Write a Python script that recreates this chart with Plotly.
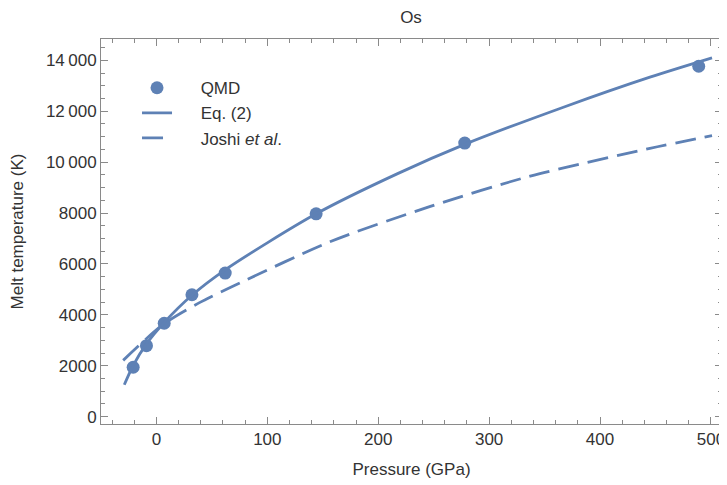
import plotly.graph_objects as go

# QMD data points (pressure GPa, melt temperature K)
qmd_p = [-21, -9, 7, 32, 62, 144, 278, 489]
qmd_t = [1940, 2790, 3670, 4790, 5640, 7970, 10750, 13770]

# Eq. (2) curve
eq_p = [-29, -21, -9, 7, 32, 62, 144, 217, 278, 367, 445, 501]
eq_t = [1250, 2010, 2860, 3700, 4770, 5770, 7970, 9540, 10700, 12160, 13340, 14100]

# Joshi et al. curve
jo_p = [-30, 6, 38, 67, 157, 247, 337, 445, 501]
jo_t = [2210, 3620, 4460, 5080, 6880, 8260, 9450, 10540, 11040]

x_ticks = [0, 100, 200, 300, 400, 500]
y_ticks = [0, 2000, 4000, 6000, 8000, 10000, 12000, 14000]
y_tick_text = ["0", "2000", "4000", "6000", "8000", "10\u2009000", "12\u2009000", "14\u2009000"]

color = "#5E81B5"
frame = "#8a8a8a"
txt = "#333333"
font_family = "Liberation Sans, Arial, sans-serif"
pad = "\u00a0" * 5

# the page body has an 8px margin, so the figure is sized to fit the window
W, H = 719, 477

fig = go.Figure()
fig.add_trace(go.Scatter(x=qmd_p, y=qmd_t, mode="markers", name=pad + "QMD",
                         legendgroup="a",
                         marker=dict(color=color, size=13)))
fig.add_trace(go.Scatter(x=eq_p, y=eq_t, mode="lines", name=pad + "Eq. (2)",
                         legendgroup="b",
                         line=dict(color=color, width=2.8, shape="spline", smoothing=0.8)))
fig.add_trace(go.Scatter(x=jo_p, y=jo_t, mode="lines", name=pad + "Joshi <i>et al</i>.",
                         legendgroup="c",
                         line=dict(color=color, width=2.8, dash="21px,9px", shape="spline", smoothing=0.8)))

axis_common = dict(
    showline=True, linecolor=frame, linewidth=1, mirror="allticks",
    ticks="inside", ticklen=7, tickcolor=frame, tickwidth=1,
    showgrid=False, zeroline=False, automargin=False,
    tickfont=dict(family=font_family, size=17, color=txt),
)

fig.update_xaxes(range=[-50, 510], tickvals=x_ticks,
                 minor=dict(ticks="inside", ticklen=4, dtick=20, tick0=0, tickcolor=frame, showgrid=False),
                 title=dict(text="\u00a0" * 5 + "Pressure (GPa)", font=dict(family=font_family, size=17, color=txt), standoff=14),
                 **axis_common)
fig.update_yaxes(range=[-290, 14840], tickvals=y_ticks, ticktext=y_tick_text,
                 minor=dict(ticks="inside", ticklen=4, dtick=500, tick0=0, tickcolor=frame, showgrid=False),
                 title=dict(text="Melt temperature (K)", font=dict(family=font_family, size=17, color=txt), standoff=19),
                 **axis_common)

fig.update_layout(
    width=W, height=H,
    margin=dict(l=93, r=5, t=31, b=61),
    paper_bgcolor="white", plot_bgcolor="white",
    title=dict(text="Os", x=403 / W, xanchor="center", y=1 - 9 / H, yanchor="middle",
               font=dict(family=font_family, size=17, color=txt)),
    showlegend=True,
    legend=dict(x=0.058, y=0.919, xanchor="left", yanchor="top", bgcolor="rgba(0,0,0,0)",
                font=dict(family=font_family, size=17, color=txt), tracegroupgap=0),
    font=dict(family=font_family, color=txt),
)

fig.write_html("out.html")
